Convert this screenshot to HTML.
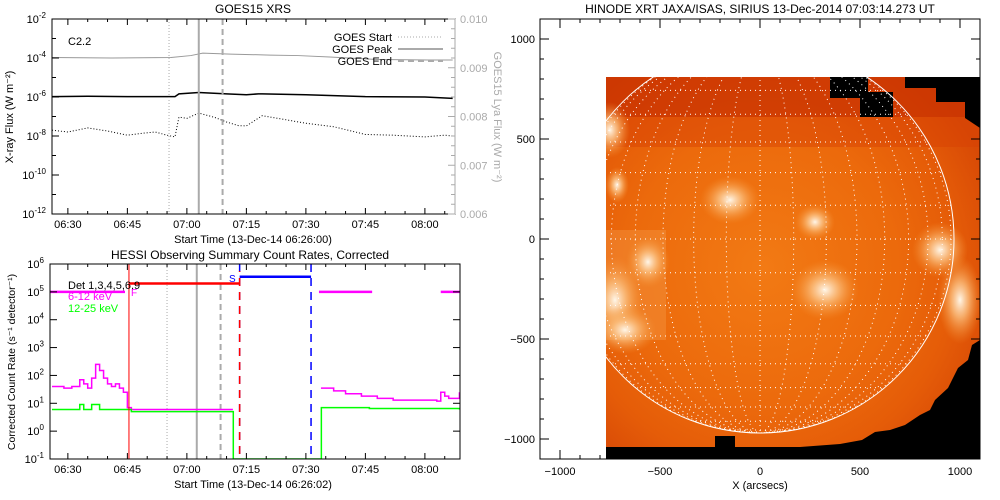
<!DOCTYPE html>
<html><head><meta charset="utf-8"><style>
body{margin:0;background:#fff;width:1000px;height:500px;overflow:hidden}
svg{display:block;font-family:"Liberation Sans",sans-serif}
</style></head><body>
<svg id="s" width="1000" height="500" viewBox="0 0 1000 500"></svg>
<script>
// ---- GOES data (minutes after 06:26) ----
const goesTimes=[0,9,19,26,31,32,37,44,49,52,53,64,79,94,101];
const goesLong=[1.05e-6,1.1e-6,1.05e-6,1.05e-6,1.05e-6,1.45e-6,1.7e-6,1.45e-6,1.3e-6,1.45e-6,1.45e-6,1.3e-6,1.05e-6,1.0e-6,0.85e-6];
const dotTimes=[0,4,9,14,19,23,26,29,31,32,34,37,41,44,47,49,53,57,64,71,79,86,94,99,101];
const goesShort=[2.0e-8,1.6e-8,2.6e-8,1.8e-8,1.1e-8,1.4e-8,1.6e-8,1.1e-8,0.9e-8,9.3e-8,8e-8,1.5e-7,9e-8,5.2e-8,3.4e-8,3.3e-8,1.1e-7,8e-8,4.5e-8,3.0e-8,1.2e-8,1.1e-8,0.9e-8,1.1e-8,1.0e-8];
const lyaTimes=[0,15,30,35,38,45,55,62,70,82,95,101];
const lyaFlux=[0.00921,0.00920,0.00921,0.00925,0.00930,0.00928,0.00926,0.00925,0.00922,0.00917,0.00916,0.00916];
const goesEvents=[29.5,37,43]; // start, peak, end
const xTickLabels=["06:30","06:45","07:00","07:15","07:30","07:45","08:00"];
const xTickMins=[4,19,34,49,64,79,94];
// ---- HESSI data ----
const hTimes=[0,3,5,7,8,9,10,11,12,13,14,15,16,17,18,19,20,45.6];
const hLow=[40,35,40,70,50,35,80,250,150,80,50,40,50,35,25,7,6,6];
const hTimes2=[67.8,71,74,78,82,86,90,94,97,98,99,100,102.7];
const hLow2=[35,28,22,18,15,13,13,13,12,25,18,15,25];
const gTimes=[0,5,7,8,10,12,20,45.6,45.7];
const gHigh=[6,6,9,6,9,6,5,5,0.1];
const gTimes2=[45.7,67.8,67.9,80,102.7];
const gHigh2=[0.1,0.1,7,6.5,6];
const attenBars=[[0,18.4],[67.8,80.7],[98.5,102.7]];
const hVert=[19.4,47.3,65.3];
</script>
<script>
const S=document.getElementById('s');const NS='http://www.w3.org/2000/svg';
function mk(t,a,p){const e=document.createElementNS(NS,t);for(const k in a)e.setAttribute(k,a[k]);(p||S).appendChild(e);return e;}
function txt(x,y,s,a,p){const e=mk('text',Object.assign({x:x,y:y,'font-size':11},a||{}),p);e.textContent=s;return e;}
// ===== UPPER GOES PLOT =====
const U={l:52,r:455,t:19,b:214};
const ux=m=>U.l+m*3.967;
const uy=v=>U.t+(-2-Math.log10(v))*19.5;
const uyR=v=>U.b-(v-0.006)*48750;
const gU=mk('g',{});
txt(253,13,'GOES15 XRS',{'text-anchor':'middle','font-size':12},gU);
let d='';lyaTimes.forEach((t,i)=>d+=(i?'L':'M')+ux(t)+','+uyR(lyaFlux[i]));
const lya=mk('path',{d:d,fill:'none',stroke:'#999','stroke-width':1},gU);
d='';goesTimes.forEach((t,i)=>d+=(i?'L':'M')+ux(t)+','+uy(goesLong[i]));
const gl=mk('path',{d:d,fill:'none',stroke:'#000','stroke-width':1.5},gU);
d='';dotTimes.forEach((t,i)=>d+=(i?'L':'M')+ux(t)+','+uy(goesShort[i]));
const gs=mk('path',{d:d,fill:'none',stroke:'#000','stroke-width':1,'stroke-dasharray':'1 2'},gU);
const evStyles=[{'stroke-dasharray':'1 2','stroke-width':1},{'stroke-width':2},{'stroke-dasharray':'6 4','stroke-width':2}];
goesEvents.forEach((m,i)=>{const l=mk('line',Object.assign({x1:ux(m),x2:ux(m),y1:U.t,y2:U.b,stroke:'#aaa'},evStyles[i]),gU);});
mk('rect',{x:U.l,y:U.t,width:U.r-U.l,height:U.b-U.t,fill:'none',stroke:'#000'},gU);
mk('line',{x1:U.r,x2:U.r,y1:U.t,y2:U.b,stroke:'#aaa'},gU);
for(let m=4;m<=101;m+=5){const x=ux(m);const L=(m-4)%15==0?6:3;mk('line',{x1:x,x2:x,y1:U.b,y2:U.b-L,stroke:'#000'},gU);mk('line',{x1:x,x2:x,y1:U.t,y2:U.t+L,stroke:'#000'},gU);}
xTickLabels.forEach((s,i)=>txt(ux(xTickMins[i]),228,s,{'text-anchor':'middle'},gU));
for(let e=-12;e<=-2;e++){const y=uy(Math.pow(10,e));const L=e%2==0?7:4;mk('line',{x1:U.l,x2:U.l+L,y1:y,y2:y,stroke:'#000'},gU);if(e%2==0){const t=txt(46,y+4,'10',{'text-anchor':'end'},gU);const sp=mk('tspan',{dy:-5,'font-size':8},t);sp.textContent=e;}}
for(let v=0.006;v<=0.01001;v+=0.0002){const y=uyR(v);const maj=Math.abs(v*1000-Math.round(v*1000))<1e-6;mk('line',{x1:U.r,x2:U.r-(maj?7:4),y1:y,y2:y,stroke:'#aaa'},gU);if(maj)txt(460,y+4,v.toFixed(3),{fill:'#aaa'},gU);}
txt(253,243,'Start Time (13-Dec-14 06:26:00)',{'text-anchor':'middle'},gU);
txt(0,0,'X-ray Flux (W m\u207B\u00B2)',{transform:'translate(13,117) rotate(-90)','text-anchor':'middle'},gU);
txt(0,0,'GOES15 Lya Flux (W m\u207B\u00B2)',{transform:'translate(494,117) rotate(90)','text-anchor':'middle',fill:'#aaa'},gU);
txt(68,45,'C2.2',{},gU);
const lg=[['GOES Start',41,evStyles[0]],['GOES Peak',53,evStyles[1]],['GOES End',65,evStyles[2]]];
lg.forEach(([s,y,st])=>{const t=txt(392,y,s,{'text-anchor':'end'},gU);mk('line',Object.assign({x1:398,x2:443,y1:y-4,y2:y-4,stroke:'#aaa'},st),gU);});
// ===== LOWER HESSI PLOT =====
const H={l:50,r:460,t:264,b:459};
const hx=m=>H.l+2+m*3.967;
const hy=v=>H.b-(Math.log10(v)+1)*(195/7);
const gH=mk('g',{});
txt(250,259,'HESSI Observing Summary Count Rates, Corrected',{'text-anchor':'middle','font-size':12},gH);
const clip=mk('clipPath',{id:'hc'},gH);mk('rect',{x:H.l,y:H.t,width:H.r-H.l,height:H.b-H.t},clip);
const gc=mk('g',{'clip-path':'url(#hc)'},gH);
function step(ts,vs,col,name){let d='';ts.forEach((t,i)=>{d+=(i?'H'+hx(t)+'V':'M'+hx(t)+',')+hy(vs[i]);});const p=mk('path',{d:d,fill:'none',stroke:col,'stroke-width':1.5},gc);}
goesEvents.forEach((m,i)=>{mk('line',Object.assign({x1:hx(m)-2,x2:hx(m)-2,y1:H.t,y2:H.b,stroke:'#aaa'},evStyles[i]),gc);});
step(hTimes,hLow,'#f0f','counts-6-12kev');step(hTimes2,hLow2,'#f0f','counts-6-12kev-2');
step(gTimes,gHigh,'#0f0','counts-12-25kev');step(gTimes2,gHigh2,'#0f0','counts-12-25kev-2');
mk('line',{x1:hx(hVert[0]),x2:hx(hVert[0]),y1:H.t,y2:H.b,stroke:'#f00','stroke-width':1},gc);
mk('line',{x1:hx(hVert[1]),x2:hx(hVert[1]),y1:H.t,y2:H.b,stroke:'#00f','stroke-width':1.5,'stroke-dasharray':'8 6'},gc);
mk('line',{x1:hx(hVert[1]),x2:hx(hVert[1]),y1:H.t+7,y2:H.b,stroke:'#f00','stroke-width':1.5,'stroke-dasharray':'8 6','stroke-dashoffset':7},gc);
mk('line',{x1:hx(hVert[2]),x2:hx(hVert[2]),y1:H.t,y2:H.b,stroke:'#00f','stroke-width':1.5,'stroke-dasharray':'8 6'},gc);
mk('line',{x1:hx(hVert[0]),x2:hx(hVert[1]),y1:hy(2e5),y2:hy(2e5),stroke:'#f00','stroke-width':2.5},gc);
mk('line',{x1:hx(hVert[1]),x2:hx(hVert[2]),y1:hy(3.5e5),y2:hy(3.5e5),stroke:'#00f','stroke-width':2.5},gc);
attenBars.forEach(b=>{const l=mk('line',{x1:hx(b[0])-2,x2:hx(b[1]),y1:hy(1e5),y2:hy(1e5),stroke:'#f0f','stroke-width':2.5},gc);});
mk('rect',{x:H.l,y:H.t,width:H.r-H.l,height:H.b-H.t,fill:'none',stroke:'#000'},gH);
for(let m=4;m<=102;m+=5){const x=hx(m);const L=(m-4)%15==0?6:3;mk('line',{x1:x,x2:x,y1:H.b,y2:H.b-L,stroke:'#000'},gH);mk('line',{x1:x,x2:x,y1:H.t,y2:H.t+L,stroke:'#000'},gH);}
xTickLabels.forEach((s,i)=>txt(hx(xTickMins[i]),473,s,{'text-anchor':'middle'},gH));
for(let e=-1;e<=6;e++){const y=hy(Math.pow(10,e));mk('line',{x1:H.l,x2:H.l+7,y1:y,y2:y,stroke:'#000'},gH);mk('line',{x1:H.r,x2:H.r-7,y1:y,y2:y,stroke:'#000'},gH);const t=txt(44,y+4,'10',{'text-anchor':'end'},gH);const sp=mk('tspan',{dy:-5,'font-size':8},t);sp.textContent=e;}
txt(253,488,'Start Time (13-Dec-14 06:26:02)',{'text-anchor':'middle'},gH);
txt(0,0,'Corrected Count Rate (s\u207B\u00B9 detector\u207B\u00B9)',{transform:'translate(15,362) rotate(-90)','text-anchor':'middle','font-size':10.5},gH);
txt(68,289,'Det 1,3,4,5,6,9',{},gH);txt(68,300,'6-12 keV',{fill:'#f0f'},gH);txt(68,312,'12-25 keV',{fill:'#0f0'},gH);
txt(131,296,'F',{fill:'#f0f','font-size':10},gH);txt(229,282,'S',{fill:'#00f','font-size':10},gH);
// ===== SOLAR IMAGE =====
const I={l:540,r:980,t:19,b:459,cx:760,cy:239,R:194};
const gI=mk('g',{});
txt(760,13,'HINODE XRT JAXA/ISAS, SIRIUS 13-Dec-2014 07:03:14.273 UT',{'text-anchor':'middle','font-size':12},gI);
const defs=mk('defs',{},gI);
const rg=mk('radialGradient',{id:'sun',cx:'0.42',cy:'0.5',r:'0.65'},defs);
[['0','#f27a14'],['0.55','#ec6a0c'],['0.8','#e55c08'],['1','#d84a06']].forEach(([o,c])=>mk('stop',{offset:o,'stop-color':c},rg));
const bl=mk('radialGradient',{id:'blob'},defs);
[['0','#fff6e8','1'],['0.4','#fbc080','0.8'],['1','#f49030','0']].forEach(([o,c,op])=>mk('stop',{offset:o,'stop-color':c,'stop-opacity':op},bl));
const ic=mk('clipPath',{id:'ic'},defs);mk('rect',{x:606,y:77,width:374,height:382},ic);
const dc=mk('clipPath',{id:'dc'},defs);mk('circle',{cx:I.cx,cy:I.cy,r:I.R},dc);
const gimg=mk('g',{'clip-path':'url(#ic)'},gI);
mk('rect',{x:606,y:77,width:374,height:382,fill:'url(#sun)'},gimg);
mk('rect',{x:606,y:77,width:374,height:40,fill:'#c83202',opacity:0.75},gimg);
mk('rect',{x:606,y:117,width:374,height:30,fill:'#d84004',opacity:0.45},gimg);
mk('rect',{x:606,y:230,width:60,height:110,fill:'#f7a050',opacity:0.35},gimg);
[[610,130,20,28],[617,185,12,18],[730,200,30,24],[815,222,20,18],[825,290,34,30],[648,262,22,26],[615,300,28,44],[940,250,28,28],[960,300,22,44],[625,330,32,24]].forEach(b=>mk('ellipse',{cx:b[0],cy:b[1],rx:b[2],ry:b[3],fill:'url(#blob)'},gimg));
mk('polygon',{points:'830,77 868,77 868,92 893,92 893,117 860,117 860,98 830,98',fill:'#000'},gimg);
mk('polygon',{points:'895,77 980,77 980,128 965,118 965,102 936,102 936,88 905,88 905,77',fill:'#000'},gimg);
mk('polygon',{points:'980,340 972,345 968,360 958,368 952,380 948,388 935,400 930,410 920,415 905,425 890,430 875,432 862,440 840,444 800,447 760,447 606,447 606,459 980,459',fill:'#000'},gimg);
mk('rect',{x:715,y:436,width:20,height:11,fill:'#000'},gimg);
const gg=mk('g',{'clip-path':'url(#dc)',stroke:'#fff','stroke-width':1,'stroke-dasharray':'1 4',fill:'none'},gimg);
for(let a=-80;a<=80;a+=10){const y=I.cy-I.R*Math.sin(a*Math.PI/180);mk('line',{x1:I.l,x2:I.r,y1:y,y2:y},gg);}
for(let a=10;a<=80;a+=10){mk('ellipse',{cx:I.cx,cy:I.cy,rx:I.R*Math.sin(a*Math.PI/180),ry:I.R},gg);}
mk('line',{x1:I.cx,x2:I.cx,y1:I.cy-I.R,y2:I.cy+I.R},gg);
const limb=mk('circle',{cx:I.cx,cy:I.cy,r:I.R,fill:'none',stroke:'#fff','stroke-width':1},gimg);
mk('rect',{x:I.l,y:I.t,width:I.r-I.l,height:I.b-I.t,fill:'none',stroke:'#000'},gI);
[-1000,-500,0,500,1000].forEach(v=>{const x=I.cx+v*0.2,y=I.cy-v*0.2;
mk('line',{x1:x,x2:x,y1:I.b,y2:I.b-9,stroke:'#000'},gI);mk('line',{x1:x,x2:x,y1:I.t,y2:I.t+9,stroke:'#000'},gI);
mk('line',{x1:I.l,x2:I.l+9,y1:y,y2:y,stroke:'#000'},gI);mk('line',{x1:I.r,x2:I.r-9,y1:y,y2:y,stroke:'#000'},gI);
txt(x,475,String(v).replace('-','\u2212'),{'text-anchor':'middle'},gI);txt(535,y+4,String(v).replace('-','\u2212'),{'text-anchor':'end'},gI);});
for(let v=-1000;v<=1000;v+=100){if(v%500==0)continue;const x=I.cx+v*0.2,y=I.cy-v*0.2;
mk('line',{x1:x,x2:x,y1:I.b,y2:I.b-4,stroke:'#000'},gI);mk('line',{x1:x,x2:x,y1:I.t,y2:I.t+4,stroke:'#000'},gI);
mk('line',{x1:I.l,x2:I.l+4,y1:y,y2:y,stroke:'#000'},gI);mk('line',{x1:I.r,x2:I.r-4,y1:y,y2:y,stroke:'#000'},gI);}
txt(760,489,'X (arcsecs)',{'text-anchor':'middle'},gI);
</script>
</body></html>
